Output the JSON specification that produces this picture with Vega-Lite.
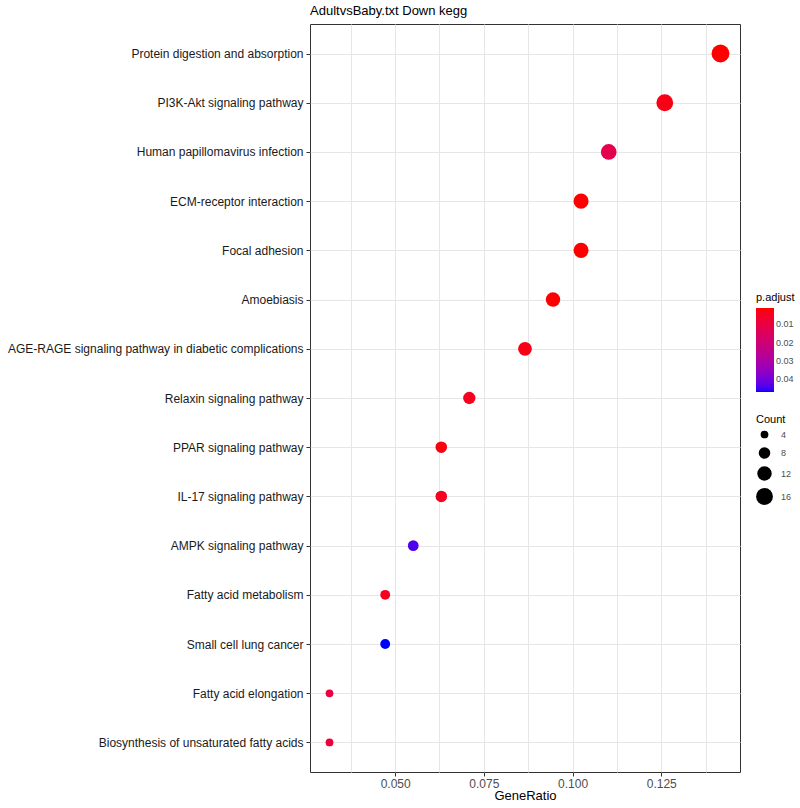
{
  "$schema": "https://vega.github.io/schema/vega-lite/v6.json",
  "autosize": {"type": "none"},
  "padding": {"left": 310, "top": 24, "right": 60, "bottom": 36},
  "width": 430,
  "height": 748,
  "background": "white",
  "title": {"text": "AdultvsBaby.txt Down kegg", "anchor": "start", "frame": "group", "font": "Liberation Sans", "fontSize": 13, "fontWeight": "normal", "color": "#000000", "offset": 6},
  "data": {"values": [
    {"Description": "Protein digestion and absorption", "GeneRatio": 0.1417, "Count": 18, "padj": 0.001},
    {"Description": "PI3K-Akt signaling pathway", "GeneRatio": 0.1260, "Count": 16, "padj": 0.003},
    {"Description": "Human papillomavirus infection", "GeneRatio": 0.1102, "Count": 14, "padj": 0.012},
    {"Description": "ECM-receptor interaction", "GeneRatio": 0.1024, "Count": 13, "padj": 0.001},
    {"Description": "Focal adhesion", "GeneRatio": 0.1024, "Count": 13, "padj": 0.001},
    {"Description": "Amoebiasis", "GeneRatio": 0.0945, "Count": 12, "padj": 0.001},
    {"Description": "AGE-RAGE signaling pathway in diabetic complications", "GeneRatio": 0.0866, "Count": 11, "padj": 0.003},
    {"Description": "Relaxin signaling pathway", "GeneRatio": 0.0709, "Count": 9, "padj": 0.004},
    {"Description": "PPAR signaling pathway", "GeneRatio": 0.0630, "Count": 8, "padj": 0.002},
    {"Description": "IL-17 signaling pathway", "GeneRatio": 0.0630, "Count": 8, "padj": 0.004},
    {"Description": "AMPK signaling pathway", "GeneRatio": 0.0551, "Count": 7, "padj": 0.044},
    {"Description": "Fatty acid metabolism", "GeneRatio": 0.0472, "Count": 6, "padj": 0.004},
    {"Description": "Small cell lung cancer", "GeneRatio": 0.0472, "Count": 6, "padj": 0.047},
    {"Description": "Fatty acid elongation", "GeneRatio": 0.0315, "Count": 4, "padj": 0.009},
    {"Description": "Biosynthesis of unsaturated fatty acids", "GeneRatio": 0.0315, "Count": 4, "padj": 0.009}
  ]},
  "mark": {"type": "circle", "opacity": 1},
  "encoding": {
    "x": {
      "field": "GeneRatio", "type": "quantitative",
      "scale": {"domain": [0.026, 0.1472], "nice": false, "zero": false},
      "axis": {
        "title": "GeneRatio",
        "values": [0.0375, 0.05, 0.0625, 0.075, 0.0875, 0.1, 0.1125, 0.125, 0.1375],
        "labelExpr": "(abs(datum.value*40 - round(datum.value*40)) < 0.01) ? format(datum.value, '.3f') : ''",
        "tickOpacity": {"condition": {"test": "abs(datum.value*40 - round(datum.value*40)) < 0.01", "value": 1}, "value": 0},
        "gridColor": "#E6E6E6",
        "gridWidth": 1,
        "domain": false,
        "tickColor": "#333333",
        "tickSize": 4,
        "labelFont": "Liberation Sans",
        "labelFontSize": 12,
        "labelColor": "#4D4D4D",
        "labelPadding": 2,
        "titleFont": "Liberation Sans",
        "titleFontSize": 13,
        "titleFontWeight": "normal",
        "titleColor": "#000000",
        "titlePadding": 0
      }
    },
    "y": {
      "field": "Description", "type": "nominal",
      "sort": null,
      "scale": {"type": "point", "padding": 0.6},
      "axis": {
        "title": null,
        "grid": true,
        "gridColor": "#E6E6E6",
        "domain": false,
        "tickColor": "#333333",
        "tickSize": 4,
        "labelFont": "Liberation Sans",
        "labelFontSize": 12,
        "labelColor": "#1A1A1A",
        "labelPadding": 3,
        "labelLimit": 400
      }
    },
    "color": {
      "field": "padj", "type": "quantitative",
      "scale": {"domain": [0.047, 0.001], "range": ["#0000FF", "#FF0000"], "interpolate": "lab", "zero": false, "nice": false},
      "legend": {
        "title": "p.adjust",
        "orient": "none",
        "legendX": 446,
        "legendY": 268,
        "direction": "vertical",
        "gradientLength": 84,
        "gradientThickness": 18,
        "gradientStrokeWidth": 0,
        "values": [0.01, 0.02, 0.03, 0.04],
        "format": ".2f",
        "titleFont": "Liberation Sans",
        "titleFontSize": 11,
        "titleFontWeight": "normal",
        "titleColor": "#000000",
        "labelFont": "Liberation Sans",
        "labelFontSize": 9,
        "labelColor": "#4D4D4D"
      }
    },
    "size": {
      "field": "Count", "type": "quantitative",
      "scale": {"domain": [4, 18], "range": [60, 320], "zero": false},
      "legend": {
        "title": "Count",
        "orient": "none",
        "legendX": 446,
        "legendY": 390,
        "values": [4, 8, 12, 16],
        "symbolFillColor": "#000000",
        "symbolStrokeWidth": 0,
        "symbolType": "circle",
        "titleFont": "Liberation Sans",
        "titleFontSize": 11,
        "titleFontWeight": "normal",
        "titleColor": "#000000",
        "labelFont": "Liberation Sans",
        "labelFontSize": 9,
        "labelColor": "#4D4D4D",
        "labelOffset": 8,
        "rowPadding": 7
      }
    }
  },
  "config": {
    "view": {"stroke": "#333333", "strokeWidth": 1}
  }
}
